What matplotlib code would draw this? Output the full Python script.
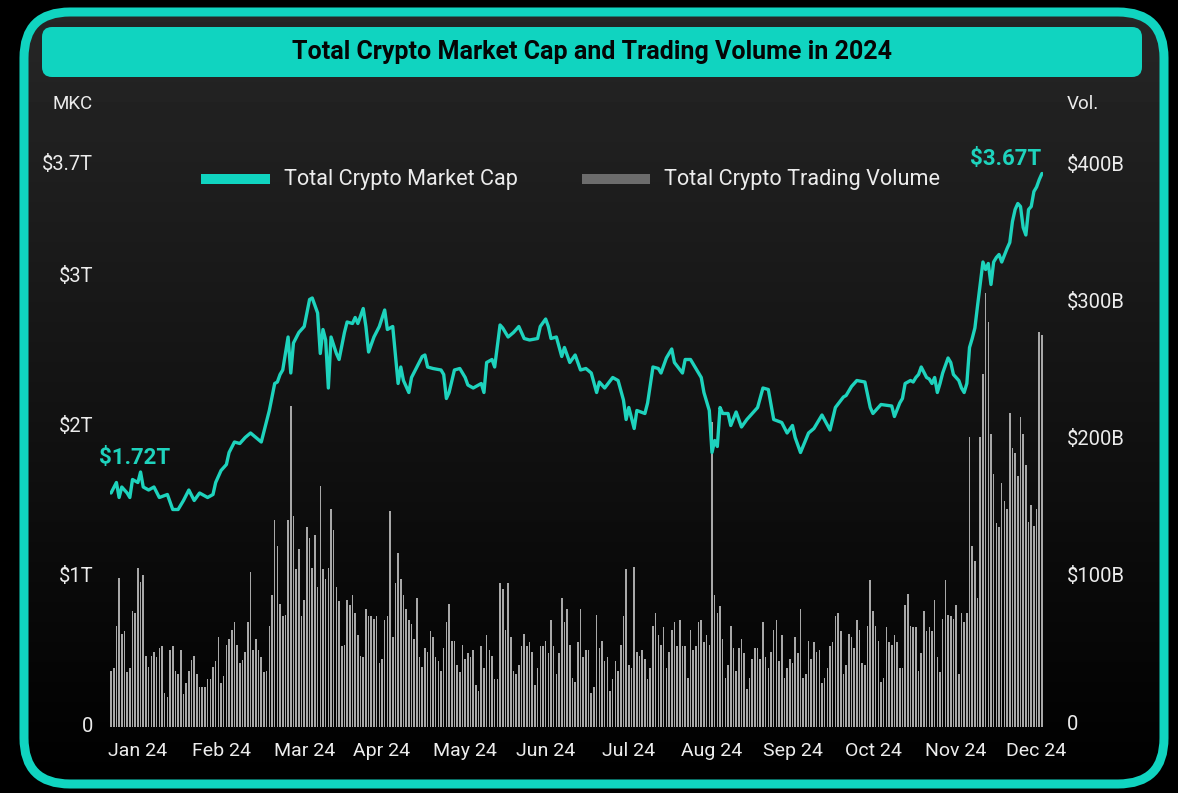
import numpy as np
import matplotlib
matplotlib.use("Agg")
import matplotlib.pyplot as plt
from matplotlib.patches import FancyBboxPatch, Rectangle
import datetime as dt

plt.rcParams['font.family'] = ['Roboto', 'DejaVu Sans']

# ---------------- data ----------------
start_date = dt.date(2023, 12, 25)   # first daily bar

# daily total trading volume, $B
volume_b = [
    30, 32, 63, 98, 57, 59, 29, 32, 74, 72, 105, 95, 100, 41, 33, 41, 44, 40, 47, 48,
    14, 11, 45, 48, 30, 28, 45, 13, 21, 30, 38, 41, 28, 18, 18, 18, 24, 24, 33, 37,
    55, 21, 26, 49, 53, 60, 66, 49, 36, 38, 44, 66, 102, 45, 53, 45, 40,
    29, 30, 63, 85, 140, 121, 79, 70, 71, 140, 223, 143, 104, 119, 70, 82, 135, 127, 105, 129,
    91, 165, 104, 97, 105, 148, 133, 91, 81, 48, 49, 82, 78, 85, 72, 56, 41, 40, 75, 70,
    70, 68, 70, 36, 39, 67, 70, 147, 55, 94, 116, 97, 85, 75, 67, 64, 53, 83, 40, 33,
    47, 44, 59, 55, 40, 37, 30, 47, 66, 79, 52, 52, 34, 29, 49, 39, 43, 40, 45, 20,
    15, 48, 32, 56, 45, 41, 24, 24, 94, 90, 60, 94, 55, 30, 28, 34, 48, 57, 48, 51,
    44, 20, 32, 48, 48, 52, 43, 67, 48, 28, 43, 83, 66, 75, 49, 25, 22, 51,
    75, 40, 45, 45, 14, 18, 71, 47, 52, 37, 40, 15, 24, 37, 30, 49, 70, 104, 34, 32,
    106, 44, 41, 45, 39, 24, 32, 63, 72, 56, 49, 62, 32, 44, 60, 66, 48, 67, 48, 48,
    25, 60, 45, 48, 66, 67, 51, 56, 49, 212, 85, 72, 77, 53, 25, 34, 63, 47, 30,
    47, 53, 43, 17, 25, 39, 47, 47, 39, 66, 40, 32, 44, 60, 67, 37, 56, 25, 32, 39,
    36, 55, 43, 75, 25, 28, 52, 39, 51, 44, 45, 21, 25, 32, 48, 51, 70, 72, 59, 28,
    34, 57, 55, 47, 67, 60, 36, 34, 63, 96, 74, 63, 52, 22, 25, 62, 51, 49,
    56, 51, 32, 32, 78, 86, 63, 62, 62, 30, 43, 74, 59, 62, 59, 82, 40, 29, 68, 96,
    71, 70, 68, 78, 28, 72, 66, 72, 201, 121, 110, 83, 201, 247, 306, 285, 203, 174, 138, 135,
    167, 154, 148, 218, 193, 189, 172, 215, 203, 180, 139, 151, 136, 148, 277, 275,
]

# total market cap, $T, at day offsets from start_date
mc_day = [0, 2, 3, 4, 6, 7, 8, 10, 11, 12, 14, 16, 18, 21, 23, 25, 27, 29, 31, 33,
          36, 38, 39, 41, 43, 44, 46, 48, 50, 52, 54, 56, 57, 59, 61, 62, 63, 64, 66, 67,
          68, 70, 72, 73, 74, 75, 77, 78, 79, 80, 81, 82, 84, 85, 87, 88, 90, 91, 92, 94,
          95, 96, 97, 98, 100, 102, 103, 105, 107, 108, 109, 111, 112, 114, 116, 117, 118, 120, 123, 124,
          125, 126, 128, 130, 132, 133, 135, 138, 139, 140, 142, 143, 145, 146, 148, 150, 152, 154, 156, 159,
          160, 162, 163, 164, 166, 168, 169, 171, 173, 175, 177, 179, 181, 182, 184, 187, 189, 191, 192, 193,
          195, 196, 199, 200, 202, 204, 205, 207, 209, 210, 213, 214, 216, 218, 220, 221, 223, 224, 225, 226,
          227, 228, 230, 231, 233, 235, 237, 238, 241, 243, 245, 247, 250, 252, 254, 255, 257, 260, 262, 265,
          268, 270, 273, 274, 276, 278, 281, 283, 284, 287, 291, 292, 294, 295, 296, 298, 299, 300, 301, 302,
          304, 305, 306, 307, 308, 309, 310, 312, 313, 314, 316, 317, 318, 319, 320, 321, 322, 323, 325, 326,
          327, 328, 329, 330, 331, 332, 334, 335, 336, 337, 338, 339, 340, 341, 342, 343, 344, 345, 346, 347]
mc_cap = [1.54, 1.61, 1.51, 1.58, 1.54, 1.51, 1.63, 1.61, 1.68, 1.58, 1.56, 1.58, 1.51, 1.53, 1.43, 1.43, 1.49, 1.56, 1.49, 1.54,
          1.51, 1.53, 1.61, 1.69, 1.73, 1.81, 1.88, 1.87, 1.91, 1.94, 1.91, 1.88, 1.95, 2.09, 2.27, 2.28, 2.33, 2.36, 2.58, 2.34,
          2.54, 2.61, 2.65, 2.74, 2.83, 2.84, 2.74, 2.47, 2.63, 2.56, 2.24, 2.58, 2.47, 2.43, 2.61, 2.68, 2.67, 2.71, 2.67, 2.77,
          2.65, 2.48, 2.53, 2.58, 2.65, 2.76, 2.63, 2.65, 2.27, 2.38, 2.29, 2.21, 2.31, 2.38, 2.45, 2.46, 2.38, 2.37, 2.36, 2.33,
          2.17, 2.21, 2.36, 2.37, 2.31, 2.26, 2.24, 2.27, 2.21, 2.41, 2.43, 2.38, 2.66, 2.64, 2.58, 2.61, 2.65, 2.57, 2.56, 2.57,
          2.65, 2.70, 2.65, 2.57, 2.58, 2.45, 2.51, 2.41, 2.46, 2.36, 2.37, 2.34, 2.21, 2.28, 2.24, 2.31, 2.29, 2.16, 2.03, 2.11,
          1.97, 2.09, 2.07, 2.14, 2.38, 2.37, 2.34, 2.44, 2.50, 2.41, 2.34, 2.43, 2.43, 2.37, 2.31, 2.21, 2.09, 1.81, 1.89, 1.85,
          2.11, 2.07, 2.07, 1.99, 2.08, 1.98, 2.03, 2.05, 2.11, 2.24, 2.23, 2.03, 2.01, 1.94, 1.99, 1.91, 1.81, 1.94, 1.97, 2.06,
          1.96, 2.11, 2.18, 2.19, 2.25, 2.29, 2.28, 2.11, 2.07, 2.13, 2.12, 2.05, 2.14, 2.17, 2.27, 2.29, 2.28, 2.31, 2.33, 2.38,
          2.31, 2.30, 2.27, 2.31, 2.21, 2.27, 2.34, 2.44, 2.41, 2.33, 2.29, 2.24, 2.21, 2.27, 2.51, 2.57, 2.64, 2.79, 3.08, 3.03,
          3.07, 2.93, 3.08, 3.11, 3.13, 3.08, 3.17, 3.21, 3.35, 3.43, 3.47, 3.45, 3.31, 3.26, 3.43, 3.45, 3.55, 3.58, 3.63, 3.67]

month_labels = ['Jan 24', 'Feb 24', 'Mar 24', 'Apr 24', 'May 24', 'Jun 24',
                'Jul 24', 'Aug 24', 'Sep 24', 'Oct 24', 'Nov 24', 'Dec 24']
tick_dates = [dt.date(2024, 1, 4), dt.date(2024, 2, 4), dt.date(2024, 3, 6), dt.date(2024, 4, 4),
              dt.date(2024, 5, 5), dt.date(2024, 6, 4), dt.date(2024, 7, 5), dt.date(2024, 8, 5),
              dt.date(2024, 9, 4), dt.date(2024, 10, 4), dt.date(2024, 11, 4), dt.date(2024, 12, 4)]

mkc_ticks = [0, 1, 2, 3, 3.74]
mkc_ticklabels = ['0', '$1T', '$2T', '$3T', '$3.7T']
vol_ticks = [-8, 100, 200, 300, 400]
vol_ticklabels = ['0', '$100B', '$200B', '$300B', '$400B']

title = 'Total Crypto Market Cap and Trading Volume in 2024'
start_label = '$1.72T'
end_label = '$3.67T'

# ---------------- style ----------------
TEAL = '#10d4c0'
LINE = '#1ed3bd'
BAR = '#a8a8a8'
TXT = '#ececec'

W, H = 1178, 793
fig = plt.figure(figsize=(W / 100, H / 100), dpi=100, facecolor='black')

# background / frame layer in pixel coordinates
bg = fig.add_axes([0, 0, 1, 1], zorder=0)
bg.set_xlim(0, W)
bg.set_ylim(H, 0)
bg.axis('off')

fx0, fy0, fx1, fy1 = 24, 12, 1164, 784
clip = FancyBboxPatch((fx0, fy0), fx1 - fx0, fy1 - fy0,
                      boxstyle='round,pad=0,rounding_size=46',
                      facecolor='none', edgecolor='none')
bg.add_patch(clip)
grad = np.linspace(0.15, 0.0, 256).reshape(-1, 1)
im = bg.imshow(grad, extent=(fx0, fx1, fy1, fy0), cmap='gray', vmin=0, vmax=1,
               aspect='auto', interpolation='bilinear', zorder=1)
im.set_clip_path(clip)
frame = FancyBboxPatch((fx0, fy0), fx1 - fx0, fy1 - fy0,
                       boxstyle='round,pad=0,rounding_size=46',
                       facecolor='none', edgecolor=TEAL, linewidth=6.5, zorder=3)
bg.add_patch(frame)

# title bar
tb = FancyBboxPatch((42, 27), 1100, 50, boxstyle='round,pad=0,rounding_size=10',
                    facecolor=TEAL, edgecolor='none', zorder=2)
bg.add_patch(tb)
bg.text(592, 52, title, ha='center', va='center', fontsize=18, fontweight='bold',
        color='#050505', zorder=4)

# axis titles
bg.text(73, 104, 'MKC', ha='center', va='center', fontsize=13.5, color=TXT, zorder=4)
bg.text(1083, 104, 'Vol.', ha='center', va='center', fontsize=13.5, color=TXT, zorder=4)

# legend (manual)
bg.add_patch(Rectangle((201, 174), 69, 10, facecolor=TEAL, edgecolor='none', zorder=4))
bg.text(284, 180, 'Total Crypto Market Cap', ha='left', va='center', fontsize=15.6,
        color=TXT, zorder=4)
bg.add_patch(Rectangle((582, 174), 68, 10, facecolor='#6c6c6c', edgecolor='none', zorder=4))
bg.text(664, 180, 'Total Crypto Trading Volume', ha='left', va='center', fontsize=15.6,
        color=TXT, zorder=4)

# value labels
bg.text(135, 458, start_label, ha='center', va='center', fontsize=16, fontweight='bold',
        color=LINE, zorder=4)
bg.text(1006, 159, end_label, ha='center', va='center', fontsize=16, fontweight='bold',
        color=LINE, zorder=4)

# ---------------- chart axes ----------------
px_l, px_r, px_t, px_b = 109.7, 1043.3, 163, 727
rect = [px_l / W, (H - px_b) / H, (px_r - px_l) / W, (px_b - px_t) / H]

x = np.arange(len(volume_b))
tick_pos = [(d - start_date).days for d in tick_dates]

ax_vol = fig.add_axes(rect, zorder=2)
ax_vol.patch.set_alpha(0)
vlo, vhi = -11, 400.7
vals = np.array(volume_b, dtype=float)
ax_vol.bar(x, vals - vlo, bottom=vlo, width=0.58, color=BAR, linewidth=0)
ax_vol.set_ylim(vlo, vhi)
ax_vol.set_xlim(-0.5, 347.5)
ax_vol.yaxis.tick_right()
ax_vol.set_yticks(vol_ticks)
ax_vol.set_yticklabels(vol_ticklabels)
ax_vol.set_xticks(tick_pos)
ax_vol.set_xticklabels(month_labels)
ax_vol.tick_params(axis='y', length=0, pad=17, labelsize=14.5, colors=TXT)
ax_vol.tick_params(axis='x', length=0, pad=11, labelsize=14, colors=TXT)
for s in ax_vol.spines.values():
    s.set_visible(False)

ax_mc = fig.add_axes(rect, zorder=3, sharex=ax_vol)
ax_mc.patch.set_alpha(0)
ax_mc.plot(mc_day, mc_cap, color=LINE, linewidth=2.4, solid_joinstyle='round',
           solid_capstyle='round')
ax_mc.set_ylim(-0.02, 3.74)
ax_mc.set_yticks(mkc_ticks)
ax_mc.set_yticklabels(mkc_ticklabels)
ax_mc.tick_params(axis='y', length=0, pad=12, labelsize=14.5, colors=TXT)
ax_mc.tick_params(axis='x', length=0, labelbottom=False)
for s in ax_mc.spines.values():
    s.set_visible(False)

fig.savefig('out.png', dpi=100, facecolor='black')
